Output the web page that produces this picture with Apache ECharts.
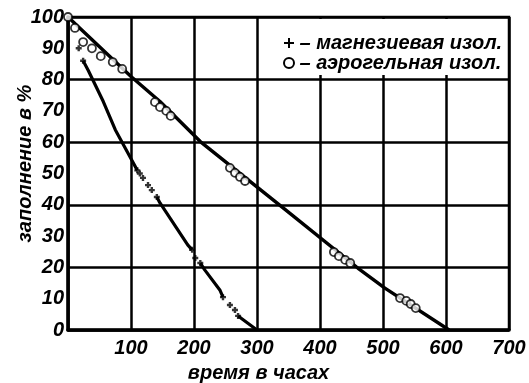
<!DOCTYPE html>
<html><head><meta charset="utf-8">
<script src="https://cdn.jsdelivr.net/npm/echarts@6/dist/echarts.min.js"></script>
<style>html,body{margin:0;padding:0;background:#fff}#c{width:529px;height:383px}</style>
</head><body><div id="c"></div>
<script>
const seriesNames = ['магнезиевая изол.', 'аэрогельная изол.'];
const xTitle = 'время в часах';
const yTitle = 'заполнение в %';
// magnesia: solid line segments (breaks where the + markers cluster)
const magnesiaLine = [[24,86],[32,83],[56,73],[75,64],[102,54],[110,51],[125,'-'],[141,42.5],[146,40.6],[190,27.2],[197,25.6],[204,'-'],[210,21.4],[217,19.2],[241,12.8],[246,10.5],[258,'-'],[270,4.5],[300,0]];
const magnesiaMarks = [[17,90],[24,86],[110,51],[114,50],[119,48.6],[127,46.3],[133,44.7],[141,42.5],[197,25.6],[202,23],[210,21.4],[246,10.5],[257,8],[265,6.4],[270,4.5]];
const aerogelLine = [[0,100],[100,81],[146,73],[210,60.2],[338,39.6],[460,19.8],[503,13.4],[605,0]];
const aerogelMarks = [[0,100],[11,96.5],[24,92],[38,90],[52,87.5],[71,85.6],[86,83.4],[138,72.8],[146,71.2],[156,70],[163,68.4],[257,51.8],[265,50.2],[273,48.9],[281,47.6],[422,24.9],[430,23.6],[440,22.4],[448,21.4],[527,10.2],[537,9.3],[544,8.3],[552,7]];

const plusPath = 'path://M4,0h2v4h4v2h-4v4h-2v-4h-4v-2h4z';
const markPath = 'path://M3,0h4v3h3v4h-3v3h-4v-3h-3v-4h3z';
const font = {fontFamily:'Liberation Sans', fontWeight:'bold', fontStyle:'italic', color:'#000'};
const chart = echarts.init(document.getElementById('c'), null, {renderer:'canvas'});
chart.setOption({
  animation:false,
  backgroundColor:'#fff',
  grid:{left:68, right:20, top:17, bottom:53, outerBoundsMode:'none', containLabel:false,
        show:true, borderColor:'#000', borderWidth:2.5},
  graphic:[{type:'rect', z:3, shape:{x:263, y:19, width:244, height:56}, style:{fill:'#fff'}}],
  legend:{
    orient:'vertical', left:278, top:28, itemGap:0, itemWidth:11, itemHeight:10,
    selectedMode:false,
    formatter: n => '– ' + n,
    textStyle:Object.assign({fontSize:20, lineHeight:19}, font),
    data:[
      {name:seriesNames[0], icon:plusPath, itemStyle:{color:'#000'}},
      {name:seriesNames[1], icon:'circle', itemStyle:{color:'#fff', borderColor:'#000', borderWidth:2}}
    ]
  },
  xAxis:{
    type:'value', min:0, max:700, interval:100,
    axisLine:{show:true, onZero:false, lineStyle:{color:'#000', width:3.5}},
    axisTick:{show:false},
    axisLabel:Object.assign({showMinLabel:false, fontSize:20, margin:8}, font),
    splitLine:{show:true, lineStyle:{color:'#000', width:2.5}},
    name:xTitle, nameLocation:'middle', nameGap:33, nameMoveOverlap:false,
    nameTextStyle:Object.assign({fontSize:20, padding:[0,60,0,0]}, font)
  },
  yAxis:[{
    type:'value', min:0, max:100, interval:10,
    axisLine:{show:true, onZero:false, lineStyle:{color:'#000', width:3.5}},
    axisTick:{show:false},
    axisLabel:Object.assign({fontSize:20, margin:4}, font),
    splitLine:{show:false},
    name:yTitle, nameLocation:'middle', nameGap:33, nameMoveOverlap:false,
    nameTextStyle:Object.assign({fontSize:20, padding:[0,0,0,20]}, font)
  },{
    type:'value', min:0, max:100, interval:20, position:'left',
    axisLine:{show:false}, axisTick:{show:false}, axisLabel:{show:false},
    splitLine:{show:true, lineStyle:{color:'#000', width:2.5}}
  }],
  series:[
    {name:seriesNames[0], type:'line', data:magnesiaLine, showSymbol:false, connectNulls:false,
     lineStyle:{color:'#000', width:3.2}, itemStyle:{color:'#000'}, z:4, silent:true},
    {name:seriesNames[0], type:'scatter', data:magnesiaMarks, symbol:markPath, symbolSize:6,
     itemStyle:{color:'#000'}, z:5, silent:true},
    {name:seriesNames[1], type:'line', data:aerogelLine, showSymbol:false,
     lineStyle:{color:'#000', width:3.4}, itemStyle:{color:'#000'}, z:4, silent:true},
    {name:seriesNames[1], type:'scatter', data:aerogelMarks, symbol:'circle', symbolSize:8,
     itemStyle:{color:'#fff', borderColor:'#000', borderWidth:1.8}, z:5, silent:true}
  ]
});
</script></body></html>
